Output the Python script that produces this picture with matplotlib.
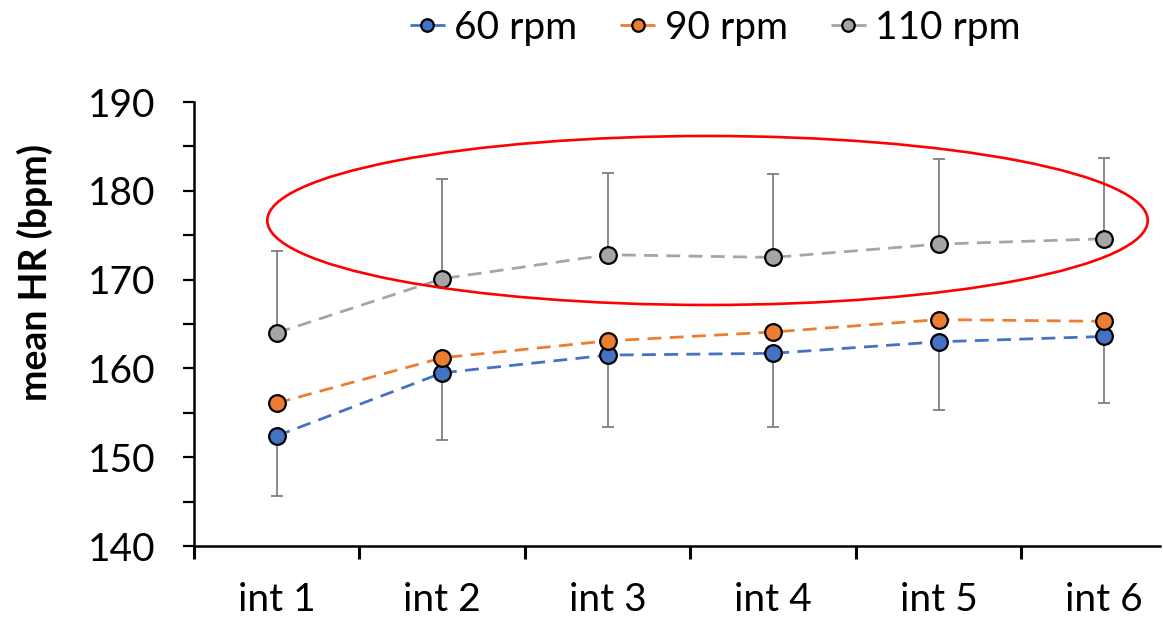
import matplotlib
matplotlib.use("Agg")
import matplotlib.pyplot as plt
from matplotlib.patches import Ellipse
from matplotlib.ticker import MultipleLocator, FixedLocator, NullFormatter
import numpy as np

plt.rcParams['font.family'] = ['Lato', 'DejaVu Sans']

categories = ["int 1", "int 2", "int 3", "int 4", "int 5", "int 6"]
hr_60 = [152.4, 159.5, 161.5, 161.7, 163.0, 163.6]
hr_90 = [156.1, 161.2, 163.1, 164.1, 165.5, 165.3]
hr_110 = [164.0, 170.1, 172.8, 172.5, 174.0, 174.6]
sd_60_low = [6.8, 7.6, 8.1, 8.3, 7.7, 7.5]
sd_110_up = [9.2, 11.2, 9.2, 9.4, 9.6, 9.1]

series = [
    ("60 rpm", hr_60, "#4472C4"),
    ("90 rpm", hr_90, "#ED7D31"),
    ("110 rpm", hr_110, "#A5A5A5"),
]

fig = plt.figure(figsize=(11.63, 6.19), dpi=100)
ax = fig.add_axes([0.1668, 0.1179, 0.8306, 0.7173])

x = np.arange(1, len(categories) + 1)

# error bars
ax.errorbar(x, hr_60, yerr=[sd_60_low, [0] * len(x)], fmt="none",
            ecolor="#7F7F7F", elinewidth=1.3, capsize=4, capthick=1.3, zorder=2)
ax.errorbar(x, hr_110, yerr=[[0] * len(x), sd_110_up], fmt="none",
            ecolor="#7F7F7F", elinewidth=1.3, capsize=4, capthick=1.3, zorder=2)

for label, vals, col in series:
    ax.plot(x, vals, linestyle=(0, (5, 3)), color=col, linewidth=2.0,
            marker="o", markersize=12, markerfacecolor=col,
            markeredgecolor="black", markeredgewidth=1.6, label=label, zorder=3)

# red highlight ellipse
ell = Ellipse((3.603, 176.66), width=5.32, height=19.03, fill=False,
              edgecolor="#FF0000", linewidth=1.9, zorder=4)
ax.add_patch(ell)

ax.set_xlim(0.5, 6.337)
ax.set_ylim(140, 190)

ax.yaxis.set_major_locator(MultipleLocator(10))
ax.yaxis.set_minor_locator(MultipleLocator(5))

ax.xaxis.set_major_locator(FixedLocator(np.arange(0.5, 6.5, 1.0)))
ax.xaxis.set_major_formatter(NullFormatter())
ax.xaxis.set_minor_locator(FixedLocator(x))
ax.set_xticks(x, categories, minor=True)

ax.tick_params(axis="y", which="both", direction="out", length=8, width=1.6,
               labelsize=28, pad=20, color="black")
ax.tick_params(axis="x", which="major", direction="out", length=9, width=2.2,
               color="black")
ax.tick_params(axis="x", which="minor", length=0, labelsize=28, pad=26)

for side in ["top", "right"]:
    ax.spines[side].set_visible(False)
for side in ["left", "bottom"]:
    ax.spines[side].set_linewidth(1.8)
    ax.spines[side].set_color("black")

ax.set_ylabel("mean HR (bpm)", fontsize=27, fontweight="bold", va="center")
ax.yaxis.set_label_coords(-0.1646, 0.617)

leg = fig.legend(loc="center", bbox_to_anchor=(0.615, 0.955), ncol=3,
                 frameon=False, fontsize=28, handlelength=0.9,
                 handletextpad=0.25, columnspacing=1.1, markerscale=0.75)

fig.savefig("out.png", dpi=100)
